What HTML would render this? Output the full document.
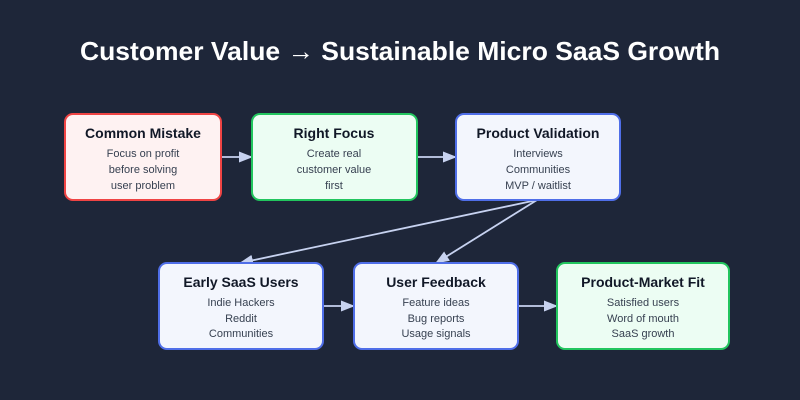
<!DOCTYPE html>
<html><head><meta charset="utf-8"><style>
html,body{margin:0;padding:0;background:#1e2639;}
svg{display:block;}
text{font-family:"Liberation Sans",Arial,sans-serif;}
.t{font-size:14px;font-weight:bold;fill:#111827;text-anchor:middle;}
.s{font-size:11px;fill:#374151;text-anchor:middle;}
</style></head><body>
<svg width="800" height="400" viewBox="0 0 800 400" xmlns="http://www.w3.org/2000/svg">
<defs><marker id="a" markerWidth="14" markerHeight="12" refX="13" refY="5.5" orient="auto" markerUnits="userSpaceOnUse"><path d="M0,0 L14,5.5 L0,11 z" fill="#c7d2f0"/></marker></defs>
<rect width="800" height="400" fill="#1e2639"/>
<text x="400" y="60" text-anchor="middle" style="font-size:26px;font-weight:bold;fill:#fff" textLength="640" lengthAdjust="spacingAndGlyphs">Customer Value → Sustainable Micro SaaS Growth</text>
<g stroke="#c7d2f0" stroke-width="1.8" fill="none" marker-end="url(#a)">
<line x1="221" y1="157" x2="252" y2="157"/>
<line x1="417" y1="157" x2="456" y2="157"/>
<line x1="537" y1="200" x2="240" y2="263"/>
<line x1="537" y1="200" x2="436" y2="263"/>
<line x1="323" y1="306" x2="354" y2="306"/>
<line x1="518" y1="306" x2="557" y2="306"/>
</g>
<rect x="65" y="114" width="156" height="86" rx="8" fill="#fef2f2" stroke="#ef4444" stroke-width="2"/>
<rect x="252" y="114" width="165" height="86" rx="8" fill="#ecfdf3" stroke="#22c55e" stroke-width="2"/>
<rect x="456" y="114" width="164" height="86" rx="8" fill="#f3f6fd" stroke="#4f6ee8" stroke-width="2"/>
<rect x="159" y="263" width="164" height="86" rx="8" fill="#f3f6fd" stroke="#4f6ee8" stroke-width="2"/>
<rect x="354" y="263" width="164" height="86" rx="8" fill="#f3f6fd" stroke="#4f6ee8" stroke-width="2"/>
<rect x="557" y="263" width="172" height="86" rx="8" fill="#ecfdf3" stroke="#22c55e" stroke-width="2"/>
<text class="t" x="143" y="138">Common Mistake</text>
<text class="s" x="143" y="157">Focus on profit</text><text class="s" x="143" y="173">before solving</text><text class="s" x="143" y="189">user problem</text>
<text class="t" x="334" y="138">Right Focus</text>
<text class="s" x="334" y="157">Create real</text><text class="s" x="334" y="173">customer value</text><text class="s" x="334" y="189">first</text>
<text class="t" x="538" y="138">Product Validation</text>
<text class="s" x="538" y="157">Interviews</text><text class="s" x="538" y="173">Communities</text><text class="s" x="538" y="189">MVP / waitlist</text>
<text class="t" x="241" y="287">Early SaaS Users</text>
<text class="s" x="241" y="306">Indie Hackers</text><text class="s" x="241" y="322">Reddit</text><text class="s" x="241" y="337">Communities</text>
<text class="t" x="436" y="287">User Feedback</text>
<text class="s" x="436" y="306">Feature ideas</text><text class="s" x="436" y="322">Bug reports</text><text class="s" x="436" y="337">Usage signals</text>
<text class="t" x="643" y="287">Product-Market Fit</text>
<text class="s" x="643" y="306">Satisfied users</text><text class="s" x="643" y="322">Word of mouth</text><text class="s" x="643" y="337">SaaS growth</text>
</svg>
</body></html>
